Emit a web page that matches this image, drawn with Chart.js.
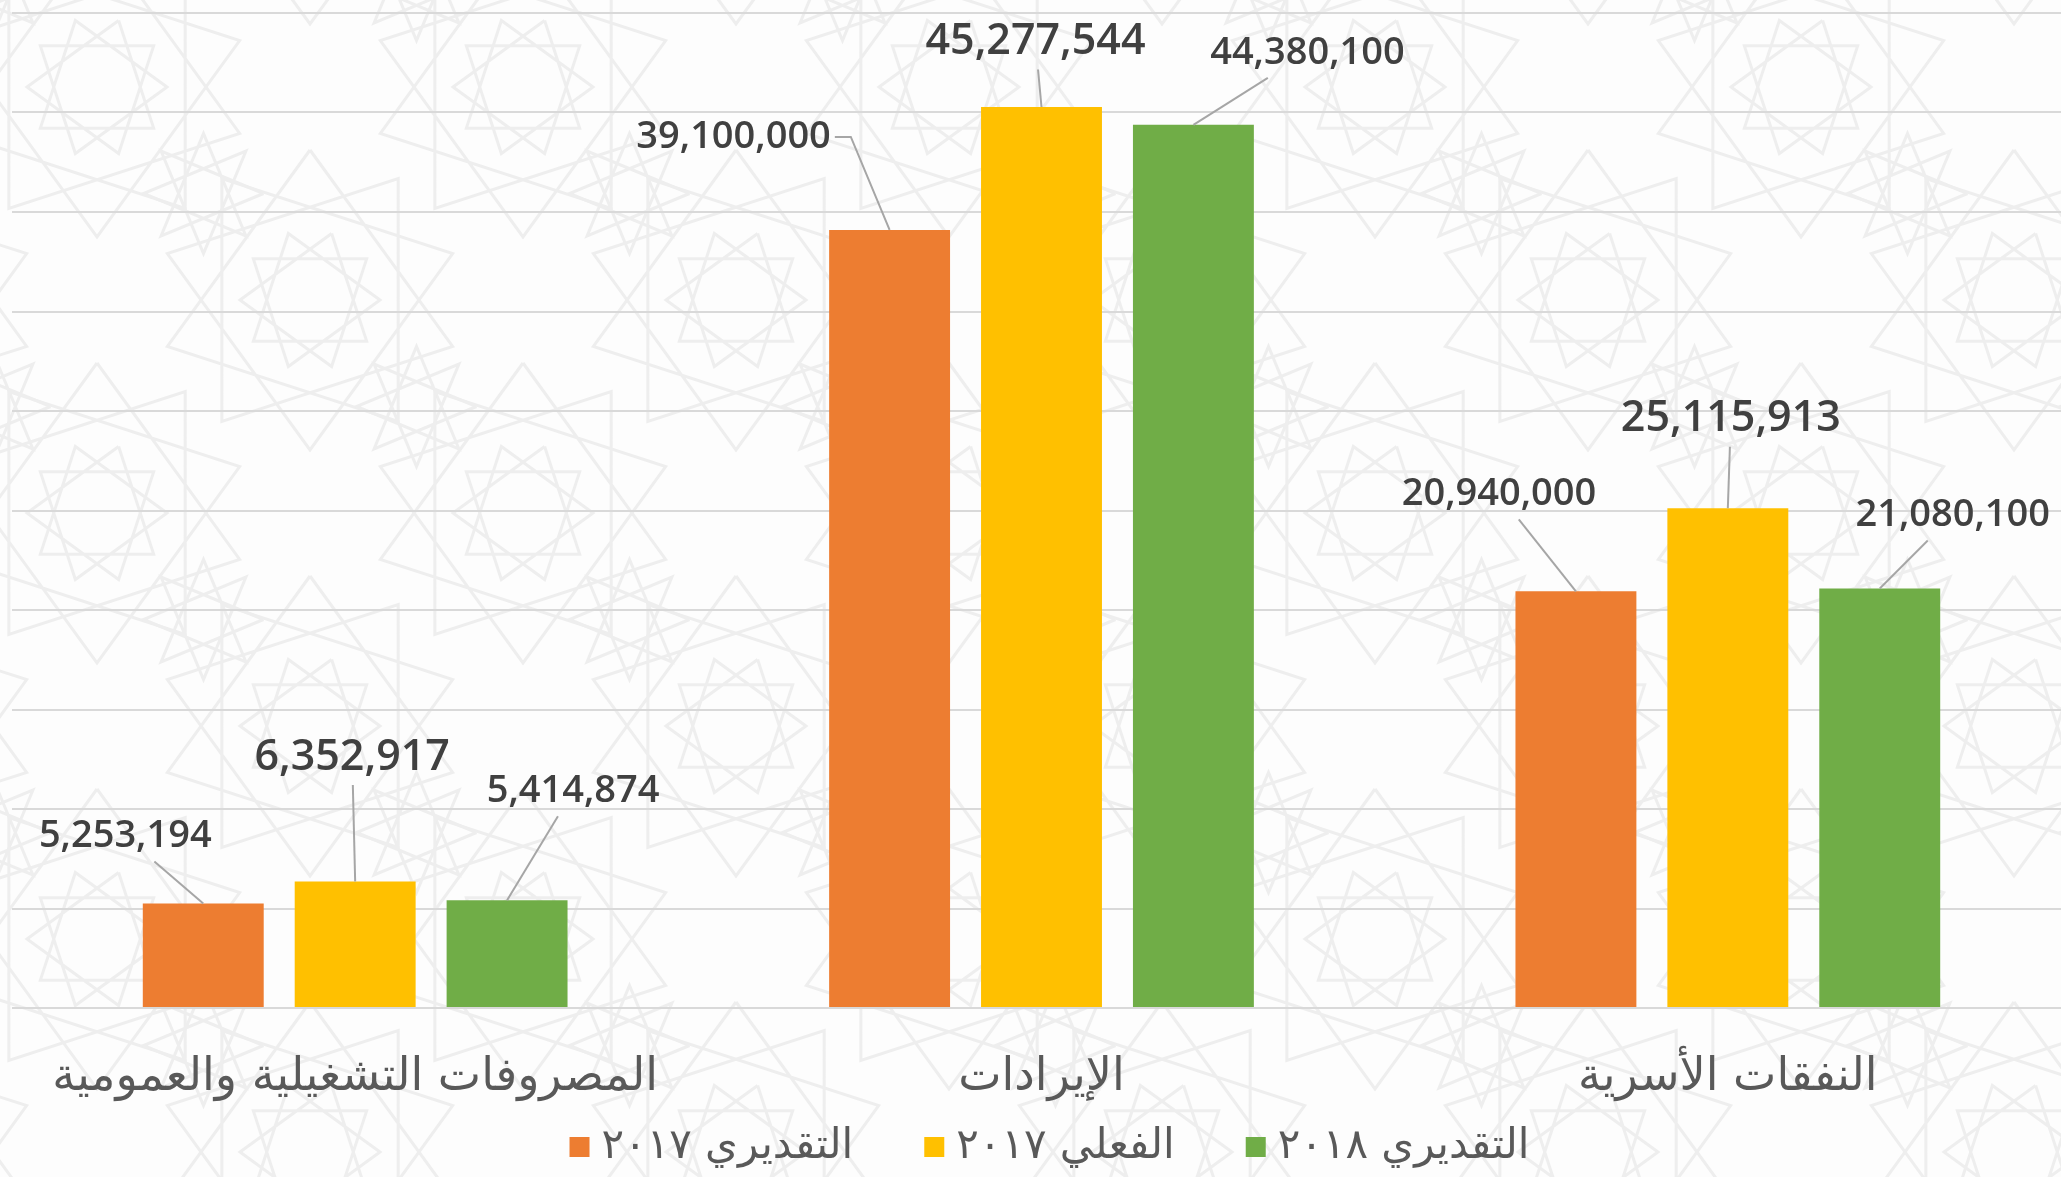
<!DOCTYPE html>
<html>
<head>
<meta charset="utf-8">
<script src="https://cdn.jsdelivr.net/npm/chart.js@4.4.0/dist/chart.umd.min.js"></script>
<style>
  html, body { margin: 0; padding: 0; overflow: hidden; background: #fff; }
  #wrap { width: 2072px; height: 1177px; }
</style>
</head>
<body>
<div id="wrap"><canvas id="chartBudget"></canvas></div>
<script>
const categories = ['المصروفات التشغيلية والعمومية', 'الإيرادات', 'النفقات الأسرية'];
const seriesNames = ['التقديري ٢٠١٧', 'الفعلي ٢٠١٧', 'التقديري ٢٠١٨'];
const estimate2017 = [5253194, 39100000, 20940000];
const actual2017 = [6352917, 45277544, 25115913];
const estimate2018 = [5414874, 44380100, 21080100];
const yMax = 50000000;
const yStep = 5000000;

const colors = ['#ED7D31', '#FFC000', '#70AD47'];
// label offset from the bar top (dx, dy), per series, per category
const labelOffsets = [
  [[-78, -67], [-156, -93], [-77, -97]],
  [[-3, -124], [-6, -65], [3, -89]],
  [[66, -109], [114, -72], [73, -73]]
];
const labelSizes = [38, 43, 38];

function star(ctx, cx, cy, n, k, R, rot) {
  ctx.beginPath();
  for (let m = 0; m <= n; m++) {
    const a = (m * k % n) / n * Math.PI * 2 + rot;
    const x = cx + R * Math.cos(a), y = cy + R * Math.sin(a);
    if (m === 0) ctx.moveTo(x, y); else ctx.lineTo(x, y);
  }
  ctx.stroke();
}

const backdrop = {
  id: 'backdrop',
  beforeDraw(chart) {
    const ctx = chart.ctx;
    ctx.save();
    ctx.fillStyle = '#fdfdfd';
    ctx.fillRect(0, 0, chart.width, chart.height);
    ctx.strokeStyle = '#eeeeee';
    ctx.lineWidth = 3;
    const px = 426, py = 213;
    for (let r = -1; r * py < chart.height + 200; r++) {
      for (let c = -1; c * px < chart.width + 300; c++) {
        const cx = c * px + (r % 2 ? px / 2 : 0) + 97;
        const cy = r * py + 87;
        star(ctx, cx, cy, 10, 3, 150, -Math.PI / 2);
        star(ctx, cx, cy, 10, 3, 70, -Math.PI / 2 + Math.PI / 10);
        star(ctx, cx + px / 4, cy + py / 2, 8, 3, 60, 0);
      }
    }
    ctx.restore();
  }
};

const barLabels = {
  id: 'barLabels',
  afterDatasetsDraw(chart) {
    const ctx = chart.ctx;
    ctx.save();
    chart.data.datasets.forEach((ds, i) => {
      chart.getDatasetMeta(i).data.forEach((bar, j) => {
        const [dx, dy] = labelOffsets[i][j];
        const lx = bar.x + dx, ly = bar.y + dy;
        const size = labelSizes[i];
        ctx.font = "600 " + size + "px 'Open Sans'";
        const text = ds.data[j].toLocaleString('en-US');
        const w = ctx.measureText(text).width;
        const hw = w / 2 + 4, hh = size / 2 + 6;
        ctx.strokeStyle = '#a6a6a6';
        ctx.lineWidth = 2;
        ctx.beginPath();
        if (Math.abs(bar.x - lx) > w * 0.7) {
          const side = Math.sign(bar.x - lx);
          const sx = lx + side * hw;
          ctx.moveTo(sx, ly);
          ctx.lineTo(sx + side * 16, ly);
          ctx.lineTo(bar.x, bar.y);
        } else {
          const by = ly + hh;
          const t = (bar.y - by) / (bar.y - ly);
          ctx.moveTo(bar.x + (lx - bar.x) * t, by);
          ctx.lineTo(bar.x, bar.y);
        }
        ctx.stroke();
        ctx.fillStyle = '#404040';
        ctx.textAlign = 'center';
        ctx.textBaseline = 'middle';
        ctx.fillText(text, lx, ly);
      });
    });
    ctx.restore();
  }
};

// legend drawn under the axis labels
const bottomLegend = {
  id: 'bottomLegend',
  afterDraw(chart) {
    const ctx = chart.ctx;
    ctx.save();
    ctx.font = "42px 'DejaVu Sans'";
    const box = 20, gap = 12, spacing = 71;
    const widths = seriesNames.map(s => ctx.measureText(s).width);
    const total = widths.reduce((a, b) => a + b, 0) + 3 * (box + gap) + 2 * spacing;
    let x = (chart.chartArea.left + chart.chartArea.right) / 2 - total / 2 + 8;
    const y = 1147;
    ctx.textBaseline = 'middle';
    ctx.textAlign = 'left';
    chart.data.datasets.forEach((ds, i) => {
      ctx.fillStyle = ds.backgroundColor;
      ctx.fillRect(x, y - box / 2, box, box);
      ctx.fillStyle = '#595959';
      ctx.fillText(ds.label, x + box + gap, y);
      x += box + gap + widths[i] + spacing;
    });
    ctx.restore();
  }
};

new Chart(document.getElementById('chartBudget'), {
  type: 'bar',
  data: {
    labels: categories,
    datasets: [
      { label: seriesNames[0], data: estimate2017, backgroundColor: colors[0] },
      { label: seriesNames[1], data: actual2017, backgroundColor: colors[1] },
      { label: seriesNames[2], data: estimate2018, backgroundColor: colors[2] }
    ]
  },
  options: {
    responsive: true,
    maintainAspectRatio: false,
    animation: false,
    datasets: { bar: { categoryPercentage: 0.664, barPercentage: 0.796 } },
    layout: { padding: { left: 12, right: 1, top: 13, bottom: 58 } },
    plugins: {
      legend: { display: false },
      tooltip: { enabled: false }
    },
    scales: {
      x: {
        grid: { display: false },
        border: { display: false },
        ticks: {
          color: '#595959',
          font: { family: 'DejaVu Sans', size: 46 },
          padding: 34,
          maxRotation: 0
        },
        afterFit(scale) { scale.height = 111; }
      },
      y: {
        min: 0,
        max: yMax,
        ticks: { display: false, stepSize: yStep },
        grid: { color: '#d9d9d9', lineWidth: 2, drawTicks: false },
        border: { display: false },
        afterFit(scale) { scale.width = 0; }
      }
    }
  },
  plugins: [backdrop, barLabels, bottomLegend]
});
</script>
</body>
</html>
